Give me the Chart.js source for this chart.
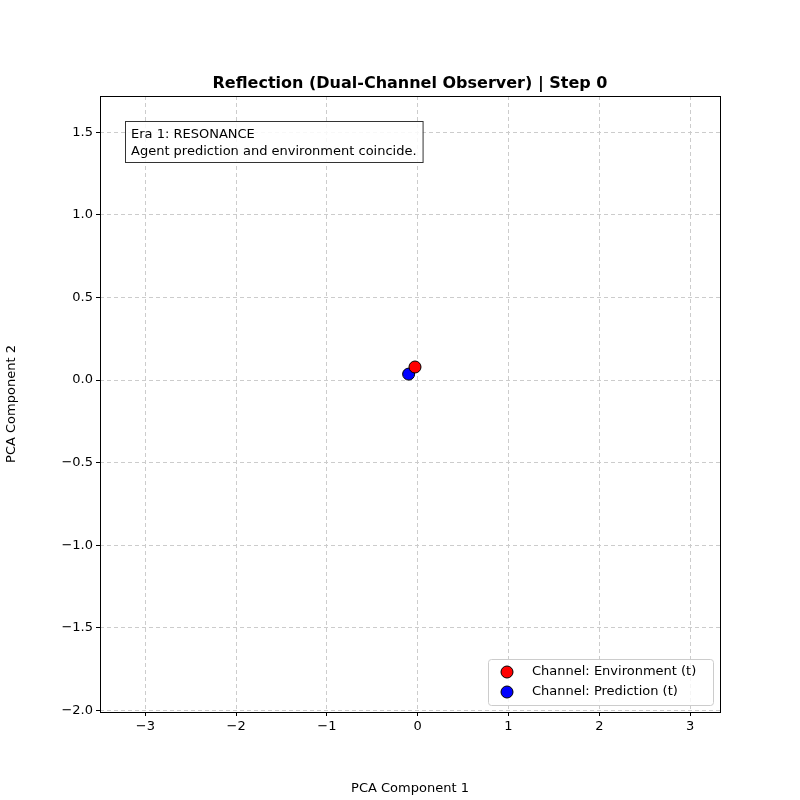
<!DOCTYPE html>
<html>
<head>
<meta charset="utf-8">
<script src="https://cdn.jsdelivr.net/npm/chart.js@4"></script>
<style>body{margin:0;background:#fff}#wrap{width:800px;height:800px}</style>
</head>
<body>
<div id="wrap"><canvas id="c" width="800" height="800"></canvas></div>
<script>
// data
const envPoints = [{ x: -0.03, y: 0.079 }];
const predPoints = [{ x: -0.10, y: 0.036 }];
const xTicks = [-3, -2, -1, 0, 1, 2, 3];
const yTicks = [-2.0, -1.5, -1.0, -0.5, 0.0, 0.5, 1.0, 1.5];
const titleText = 'Reflection (Dual-Channel Observer) | Step 0';
const noteLines = ['Era 1: RESONANCE', 'Agent prediction and environment coincide.'];
const legendLabels = ['Channel: Environment (t)', 'Channel: Prediction (t)'];
const legendColors = ['#ff0000', '#0000ff'];

const FONT = 'DejaVu Sans';
const minus = v => String(v).replace('-', '\u2212');

const overlay = {
  id: 'overlay',
  afterDraw(chart) {
    const { ctx, chartArea: a } = chart;
    ctx.save();
    // frame
    ctx.strokeStyle = '#000'; ctx.lineWidth = 1;
    ctx.strokeRect(a.left + 0.5, a.top + 0.5, a.right - a.left, a.bottom - a.top);
    // title
    ctx.fillStyle = '#000';
    ctx.font = 'bold 16px ' + FONT;
    ctx.textAlign = 'center'; ctx.textBaseline = 'alphabetic';
    ctx.fillText(titleText, (a.left + a.right) / 2, 88);
    // note box
    ctx.font = '13px ' + FONT;
    ctx.textAlign = 'left';
    const w = Math.max(...noteLines.map(l => ctx.measureText(l).width)) + 12;
    ctx.fillStyle = 'rgba(255,255,255,0.85)';
    ctx.fillRect(125.5, 121.5, w, 41);
    ctx.strokeStyle = '#333';
    ctx.strokeRect(125.5, 121.5, w, 41);
    ctx.fillStyle = '#000';
    ctx.fillText(noteLines[0], 131, 138);
    ctx.fillText(noteLines[1], 131, 155);
    // legend
    const lx = 488, ly = 659, lw = 225, lh = 46;
    ctx.fillStyle = 'rgba(255,255,255,0.8)';
    ctx.strokeStyle = '#ccc';
    ctx.beginPath(); ctx.roundRect(lx + 0.5, ly + 0.5, lw, lh, 3); ctx.fill(); ctx.stroke();
    legendLabels.forEach((t, i) => {
      const y = ly + 13 + i * 20;
      ctx.beginPath(); ctx.arc(507, y, 6, 0, Math.PI * 2);
      ctx.fillStyle = legendColors[i]; ctx.fill();
      ctx.strokeStyle = '#000'; ctx.stroke();
      ctx.fillStyle = '#000'; ctx.textBaseline = 'middle';
      ctx.fillText(t, 532, y);
    });
    ctx.restore();
  }
};

const grid = { color: '#cccccc', lineWidth: 1, tickColor: '#000', tickLength: 4, drawTicks: true };

new Chart(document.getElementById('c'), {
  type: 'scatter',
  data: {
    datasets: [
      { label: legendLabels[0], data: envPoints, backgroundColor: legendColors[0], borderColor: '#000', borderWidth: 1, pointRadius: 6 },
      { label: legendLabels[1], data: predPoints, backgroundColor: legendColors[1], borderColor: '#000', borderWidth: 1, pointRadius: 6 }
    ]
  },
  options: {
    responsive: false,
    animation: false,
    layout: { padding: { top: 96, right: 80 } },
    plugins: { legend: { display: false }, title: { display: false }, tooltip: { enabled: false } },
    scales: {
      x: {
        min: -3.5, max: 3.33,
        afterBuildTicks: s => { s.ticks = xTicks.map(v => ({ value: v })); },
        afterFit: s => { s.height = 88; },
        grid: grid,
        border: { display: false, dash: [4, 3] },
        ticks: { color: '#000', font: { family: FONT, size: 13 }, callback: v => minus(v) },
        title: { display: true, text: 'PCA Component 1', color: '#000', font: { family: FONT, size: 13 }, padding: { top: 4 } }
      },
      y: {
        min: -2.01, max: 1.72,
        afterBuildTicks: s => { s.ticks = yTicks.map(v => ({ value: v })); },
        afterFit: s => { s.width = 100; },
        grid: grid,
        border: { display: false, dash: [4, 3] },
        ticks: { color: '#000', font: { family: FONT, size: 13 }, callback: v => minus(v.toFixed(1)) },
        title: { display: true, text: 'PCA Component 2', color: '#000', font: { family: FONT, size: 13 }, padding: { bottom: 14 } }
      }
    }
  },
  plugins: [overlay]
});
</script>
</body>
</html>
